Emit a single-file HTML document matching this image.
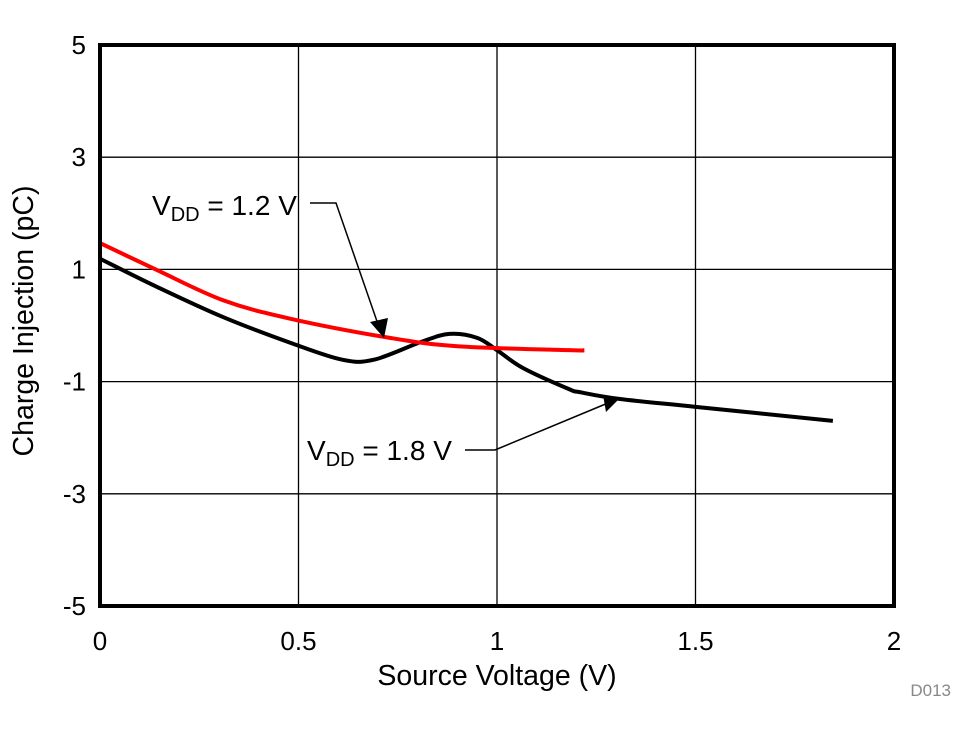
<!DOCTYPE html>
<html><head><meta charset="utf-8"><style>
html,body{margin:0;padding:0;background:#fff;}
svg text{font-family:"Liberation Sans",Arial,sans-serif;}
</style></head><body>
<svg id="chart" width="976" height="734" viewBox="0 0 976 734">
<g id="grid"></g>
<g id="ticks"></g>
<g id="series"></g>
<rect x="100" y="45" width="794" height="561" fill="none" stroke="#000" stroke-width="4"/>
<text x="497" y="685" font-size="28.5" text-anchor="middle">Source Voltage (V)</text>
<text transform="translate(33,321) rotate(-90)" font-size="28.5" text-anchor="middle">Charge Injection (pC)</text>
<text x="951" y="696" font-size="17" fill="#888" text-anchor="end">D013</text>
<g>
<text x="152" y="215" font-size="28">V<tspan font-size="20" dy="6">DD</tspan><tspan dy="-6"> = 1.2 V</tspan></text>
<polyline points="310,203 336,203 380,330" fill="none" stroke="#000" stroke-width="1.5"/>
<polygon points="384,338 370,322 388,318" fill="#000"/>
</g>
<g>
<text x="307" y="460" font-size="28">V<tspan font-size="20" dy="6">DD</tspan><tspan dy="-6"> = 1.8 V</tspan></text>
<polyline points="465,450 495,450 608,403" fill="none" stroke="#000" stroke-width="1.5"/>
<polygon points="620,398 603,395 606,412" fill="#000"/>
</g>
</svg>
<script>
const xTicks=[0,0.5,1,1.5,2];
const yTicks=[5,3,1,-1,-3,-5];
const xTickLabels=["0","0.5","1","1.5","2"];
const yTickLabels=["5","3","1","-1","-3","-5"];
const vdd18X=[0,0.143,0.31,0.48,0.61,0.69,0.81,0.88,0.95,1.0,1.066,1.18,1.21,1.31,1.5,1.846];
const vdd18Y=[1.19,0.69,0.15,-0.31,-0.61,-0.61,-0.29,-0.15,-0.22,-0.44,-0.76,-1.13,-1.19,-1.31,-1.45,-1.70];
const vdd12X=[0,0.143,0.31,0.48,0.73,0.9,1.18,1.22];
const vdd12Y=[1.47,0.99,0.45,0.12,-0.22,-0.37,-0.44,-0.44];
const X0=100,X1=894,Y0=606,Y1=45;
function sx(v){return X0+(v-0)/(2-0)*(X1-X0);}
function sy(v){return Y0-(v+5)/10*(Y0-Y1);}
const NS="http://www.w3.org/2000/svg";
const grid=document.getElementById('grid'),ticks=document.getElementById('ticks'),series=document.getElementById('series');
xTicks.forEach((t,i)=>{
 const l=document.createElementNS(NS,'line');
 
 
 l.setAttribute('x1',sx(t));l.setAttribute('x2',sx(t));l.setAttribute('y1',Y1);l.setAttribute('y2',Y0);
 l.setAttribute('stroke','#000');l.setAttribute('stroke-width','1.3');grid.appendChild(l);
 const tx=document.createElementNS(NS,'text');
 
 
 tx.setAttribute('x',sx(t));tx.setAttribute('y',650);tx.setAttribute('font-size','26');tx.setAttribute('text-anchor','middle');
 tx.textContent=xTickLabels[i];ticks.appendChild(tx);
});
yTicks.forEach((t,i)=>{
 const l=document.createElementNS(NS,'line');
 
 
 l.setAttribute('x1',X0);l.setAttribute('x2',X1);l.setAttribute('y1',sy(t));l.setAttribute('y2',sy(t));
 l.setAttribute('stroke','#000');l.setAttribute('stroke-width','1.3');grid.appendChild(l);
 const tx=document.createElementNS(NS,'text');
 
 
 tx.setAttribute('x',86);tx.setAttribute('y',sy(t)+9);tx.setAttribute('font-size','26');tx.setAttribute('text-anchor','end');
 tx.textContent=yTickLabels[i];ticks.appendChild(tx);
});
function smooth(xs,ys){
 const p=xs.map((x,i)=>[sx(x),sy(ys[i])]);
 let d='M'+p[0][0]+','+p[0][1];
 for(let i=0;i<p.length-1;i++){
  const a=p[i-1]||p[i],b=p[i],c=p[i+1],e=p[i+2]||c;
  const c1=[b[0]+(c[0]-a[0])/6,b[1]+(c[1]-a[1])/6],c2=[c[0]-(e[0]-b[0])/6,c[1]-(e[1]-b[1])/6];
  d+=' C'+c1[0]+','+c1[1]+' '+c2[0]+','+c2[1]+' '+c[0]+','+c[1];
 }
 return d;
}
const p18=document.createElementNS(NS,'path');


p18.setAttribute('d',smooth(vdd18X,vdd18Y));p18.setAttribute('fill','none');p18.setAttribute('stroke','#000');p18.setAttribute('stroke-width','4');
series.appendChild(p18);
const p12=document.createElementNS(NS,'path');


p12.setAttribute('d',smooth(vdd12X,vdd12Y));p12.setAttribute('fill','none');p12.setAttribute('stroke','#f00');p12.setAttribute('stroke-width','4');
series.appendChild(p12);
</script>
</body></html>
